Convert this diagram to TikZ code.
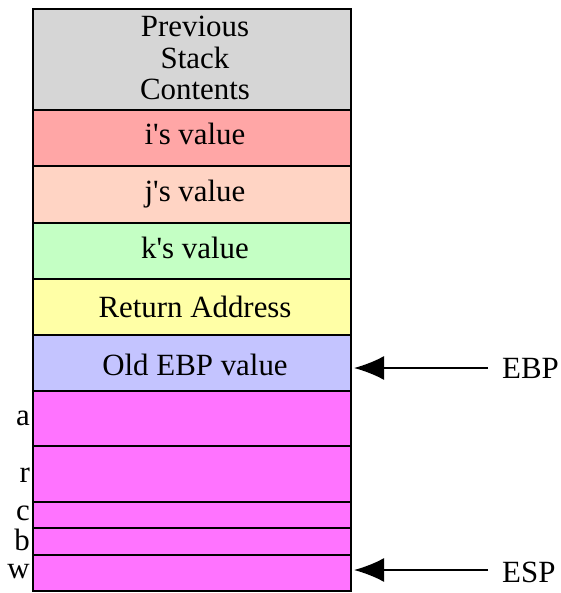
\documentclass[tikz,border=0pt]{standalone}
\usepackage{fontspec}
\setmainfont{Liberation Serif}
\usetikzlibrary{arrows.meta}
\definecolor{cgray}{HTML}{D6D6D6}
\definecolor{cred}{HTML}{FFA6A6}
\definecolor{cpeach}{HTML}{FFD4C4}
\definecolor{cgreen}{HTML}{C4FFC4}
\definecolor{cyellow}{HTML}{FFFFA6}
\definecolor{cblue}{HTML}{C4C4FF}
\definecolor{cmag}{HTML}{FF73FF}
\newcommand{\sq}{\textquotesingle}
\begin{document}
\begin{tikzpicture}[x=1bp,y=-1bp,
  cell/.style={draw=black,line width=2bp},
  celltext/.style={font=\fontsize{31}{31.5}\selectfont,align=center,inner sep=0pt},
  sidelabel/.style={font=\fontsize{31}{31.5}\selectfont,anchor=base east,inner sep=0pt},
  regtext/.style={font=\fontsize{31}{31.5}\selectfont,anchor=base west,inner sep=0pt},
  ptr/.style={line width=2bp,-{Latex[length=30bp,width=24bp]}}]
\useasboundingbox (0,0) rectangle (561,593);
\def\L{33}\def\R{351}
\fill[cgray] (\L,9) rectangle (\R,110);
\fill[cred] (\L,110) rectangle (\R,166);
\fill[cpeach] (\L,166) rectangle (\R,223);
\fill[cgreen] (\L,223) rectangle (\R,279);
\fill[cyellow] (\L,279) rectangle (\R,335);
\fill[cblue] (\L,335) rectangle (\R,391);
\fill[cmag] (\L,391) rectangle (\R,591);
\foreach \y in {110,166,223,279,335,391,446,502,528,555}
  \draw[cell] (\L,\y) -- (\R,\y);
\draw[cell] (\L,9) rectangle (\R,591);
\node[celltext] (prev) at (195,58) {Previous\\Stack\\Contents};
\node[celltext,anchor=base] (iv) at (195,145) {i\sq s value};
\node[celltext,anchor=base] (jv) at (195,201) {j\sq s value};
\node[celltext,anchor=base] (kv) at (195,258) {k\sq s value};
\node[celltext,anchor=base] (ra) at (195,317) {Return Address};
\node[celltext,anchor=base] (oe) at (195,375) {Old EBP value};
\node[sidelabel] (la) at (30,425) {a};
\node[sidelabel] (lr) at (30,482) {r};
\node[sidelabel] (lc) at (30,520) {c};
\node[sidelabel] (lb) at (30,550) {b};
\node[sidelabel] (lw) at (30,578) {w};
\node[regtext] (ebp) at (502,378) {EBP};
\node[regtext] (esp) at (502,582) {ESP};
\coordinate (ebpstart) at (488,368);
\coordinate (ebpend) at (354,368);
\coordinate (espstart) at (488,570);
\coordinate (espend) at (354,570);
\draw[ptr] (ebpstart) -- (ebpend);
\draw[ptr] (espstart) -- (espend);
\end{tikzpicture}
\end{document}
